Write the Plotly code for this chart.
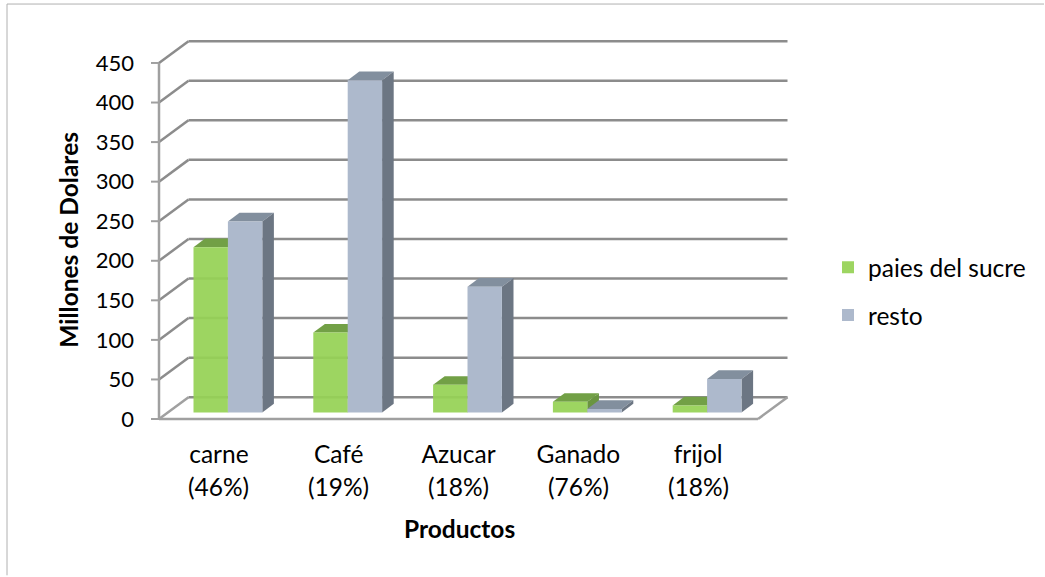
import plotly.graph_objects as go

categories = ["carne", "Café", "Azucar", "Ganado", "frijol"]
shares = ["(46%)", "(19%)", "(18%)", "(76%)", "(18%)"]
paises_del_sucre = [209, 101, 35, 13.5, 9]
resto = [241.5, 420, 159, 4.6, 42.5]
y_ticks = [0, 50, 100, 150, 200, 250, 300, 350, 400, 450]

W, H = 1045, 577
FRONT_L, FRONT_B, PAD = 159, 419.5, 5     # front axes corner in pixels, room around it
L, R, T, B = FRONT_L - PAD - 8, 792, 36, FRONT_B + PAD   # plot area in pixels
CAT_PX = 119.8                            # one category
VAL_PX = 356.5 / 450                      # one value unit
WALL_DX = 29.5 / CAT_PX
WALL_DY = 21.8 / VAL_PX
TICK = 8 / CAT_PX
BAR_W = 34.4 / CAT_PX
BAR_SHIFT = 9 / CAT_PX
BAR_BASE = 6.5 / VAL_PX
BAR_DX = 11.6 / CAT_PX
BAR_DY = 8.7 / VAL_PX
X0, X1 = -0.5, 4.5
X_MIN = X0 - (FRONT_L - L) / CAT_PX
X_MAX = X1 + (R - (FRONT_L + 5 * CAT_PX)) / CAT_PX
Y_MIN = -(B - FRONT_B) / VAL_PX
Y_MAX = (FRONT_B - T) / VAL_PX

GREEN, GREEN_TOP, GREEN_SIDE = "rgba(150,210,85,0.93)", "#72A046", "#6A9540"
BLUE, BLUE_TOP, BLUE_SIDE = "#ADB9CC", "#828F9E", "#6C7683"
GRID, AXIS = "#8C8C8C", "#A0A0A0"
LINE_W = 2.5
FONT = "Lato, Carlito, Calibri, sans-serif"
TEXT_SIZE, TICK_SIZE = 24.5, 22


def px(x):
    return (x - L) / (R - L)


def py(y):
    return (B - y) / (B - T)


shapes = []


def seg(x0, y0, x1, y1, color=GRID, width=LINE_W):
    shapes.append(dict(type="line", xref="x", yref="y", x0=x0, y0=y0, x1=x1, y1=y1,
                       layer="below", line=dict(color=color, width=width)))


def poly(points, color):
    path = "M" + " L".join(f"{x:.4f},{y:.4f}" for x, y in points) + " Z"
    shapes.append(dict(type="path", xref="x", yref="y", path=path, layer="below",
                       fillcolor=color, line=dict(width=0)))


# back wall gridlines and the left wall's diagonals
for v in y_ticks:
    seg(X0, v, X0 + WALL_DX, v + WALL_DY, GRID if v else AXIS)
    seg(X0 + WALL_DX, v + WALL_DY, X1 + WALL_DX, v + WALL_DY)
    seg(X0 - TICK, v, X0, v, AXIS, 2)
# floor and front axes
seg(X1, 0, X1 + WALL_DX, WALL_DY, AXIS)
seg(X0, 0, X1, 0, AXIS)
seg(X0, 0, X0, y_ticks[-1], AXIS)


def box_faces(x_left, value, top, side):
    x_right = x_left + BAR_W
    v = value + BAR_BASE
    poly([(x_left, v), (x_right, v), (x_right + BAR_DX, v + BAR_DY), (x_left + BAR_DX, v + BAR_DY)], top)
    poly([(x_right, BAR_BASE), (x_right, v), (x_right + BAR_DX, v + BAR_DY), (x_right + BAR_DX, BAR_BASE + BAR_DY)], side)


for i in range(len(categories)):
    box_faces(i + BAR_SHIFT - BAR_W, paises_del_sucre[i], GREEN_TOP, GREEN_SIDE)
    box_faces(i + BAR_SHIFT, resto[i], BLUE_TOP, BLUE_SIDE)

# outer chart frame
shapes.append(dict(type="path", xref="paper", yref="paper", layer="below",
                   path=f"M{px(7)},{py(576)} L{px(7)},{py(4)} L{px(1044)},{py(4)}",
                   line=dict(color="#B0B0B0", width=1)))

idx = list(range(len(categories)))
fig = go.Figure()
fig.add_bar(x=idx, y=paises_del_sucre, base=BAR_BASE, name="paies del sucre",
            width=BAR_W, offset=BAR_SHIFT - BAR_W, marker=dict(color=GREEN, line=dict(width=0)),
            legendgroup="a")
fig.add_bar(x=idx, y=resto, base=BAR_BASE, name="resto",
            width=BAR_W, offset=BAR_SHIFT, marker=dict(color=BLUE, line=dict(width=0)),
            legendgroup="b")

annotations = [
    dict(text=s, x=i, xref="x", y=py(487), yref="paper", showarrow=False,
         xanchor="center", yanchor="middle", font=dict(size=TEXT_SIZE, color="#000", family=FONT))
    for i, s in enumerate(shares)
]
annotations.append(dict(text="<b>Productos</b>", x=px(459), y=py(529), xref="paper", yref="paper",
                        showarrow=False, xanchor="center", yanchor="middle",
                        font=dict(size=TEXT_SIZE, color="#000", family=FONT)))
annotations.append(dict(text="<b>Millones de Dolares</b>", x=px(69), y=py(240), xref="paper", yref="paper",
                        showarrow=False, textangle=-90, xanchor="center", yanchor="middle",
                        font=dict(size=TEXT_SIZE, color="#000", family=FONT)))

fig.update_layout(
    width=W, height=H, barmode="overlay", paper_bgcolor="white", plot_bgcolor="white",
    margin=dict(l=L, r=W - R, t=T, b=H - B, pad=0),
    font=dict(family=FONT, size=TEXT_SIZE, color="#000"),
    shapes=shapes, annotations=annotations,
    legend=dict(x=px(828), y=py(245), xanchor="left", yanchor="top", tracegroupgap=13,
                font=dict(size=TEXT_SIZE), bgcolor="rgba(0,0,0,0)", itemclick=False),
    xaxis=dict(range=[X_MIN, X_MAX], tickvals=idx, ticktext=categories, showgrid=False,
               zeroline=False, showline=False, ticks="", ticklabelstandoff=13, fixedrange=True,
               tickfont=dict(size=TEXT_SIZE)),
    yaxis=dict(range=[Y_MIN, Y_MAX], tickvals=y_ticks, showgrid=False, zeroline=False, showline=False,
               ticks="", ticklabelstandoff=11, tickfont=dict(size=TICK_SIZE), fixedrange=True),
)

fig.write_html("out.html", config={"displayModeBar": False},
               post_script="document.body.style.margin='0';document.body.style.overflow='hidden';")
